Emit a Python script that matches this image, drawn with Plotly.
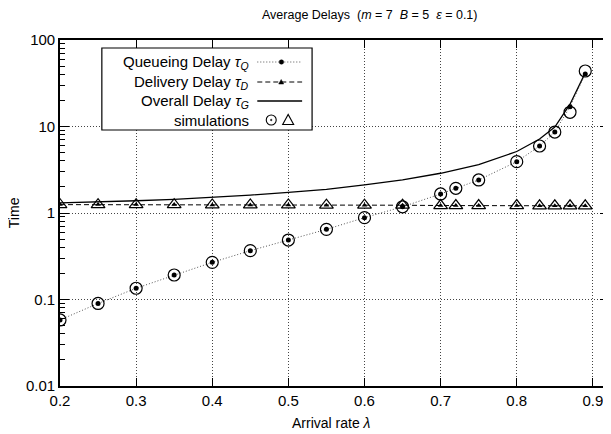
import plotly.graph_objects as go

# ---- data ----
arrival_rate = [0.2, 0.25, 0.3, 0.35, 0.4, 0.45, 0.5, 0.55, 0.6, 0.65,
                0.7, 0.72, 0.75, 0.8, 0.83, 0.85, 0.87, 0.89]
queueing_delay = [0.058, 0.090, 0.135, 0.192, 0.269, 0.367, 0.487, 0.647, 0.883, 1.18,
                  1.66, 1.93, 2.41, 3.92, 5.95, 8.63, 16.9, 40.5]
delivery_delay = [1.25, 1.25, 1.25, 1.25, 1.24, 1.24, 1.24, 1.23, 1.23, 1.23,
                  1.22, 1.22, 1.22, 1.22, 1.21, 1.21, 1.21, 1.21]
overall_delay = [1.31, 1.34, 1.385, 1.44, 1.51, 1.61, 1.73, 1.88, 2.11, 2.41,
                 2.88, 3.15, 3.63, 5.14, 7.16, 9.84, 18.1, 41.7]
sim_queueing = [0.058, 0.090, 0.135, 0.192, 0.269, 0.367, 0.487, 0.647, 0.883, 1.18,
                1.66, 1.93, 2.41, 3.92, 5.95, 8.63, 14.6, 43.8]
sim_delivery = [1.25, 1.25, 1.25, 1.25, 1.24, 1.24, 1.24, 1.23, 1.23, 1.23,
                1.22, 1.22, 1.22, 1.22, 1.21, 1.21, 1.21, 1.21]

x_tickvals = [0.2, 0.3, 0.4, 0.5, 0.6, 0.7, 0.8, 0.9]
x_ticktext = ["0.2", "0.3", "0.4", "0.5", "0.6", "0.7", "0.8", "0.9"]
y_tickvals = [0.01, 0.1, 1, 10, 100]
y_ticktext = ["0.01", "0.1", "1", "10", "100"]

FONT = "Liberation Sans, Arial, Helvetica, sans-serif"
NB = "\u00a0"

# The page body has an 8px margin; the figure is sized/offset to compensate.
OFF = 8
WIN_W, WIN_H = 611, 434
PL, PR, PT, PB = 60, 611, 40, 386          # plot area in window pixels
W, H = WIN_W - OFF, WIN_H - OFF
L, T = PL - OFF, PT - OFF
R, B = 0, H - (PB - OFF)
PW, PH = PR - PL, PB - PT


def px(xp):
    return (xp - PL) / PW


def py(yp):
    return (PB - yp) / PH


DOT = "1px,2px"

fig = go.Figure()

fig.add_trace(go.Scatter(
    x=arrival_rate, y=overall_delay, mode="lines",
    line=dict(color="black", width=1.3), showlegend=False))
fig.add_trace(go.Scatter(
    x=arrival_rate, y=delivery_delay, mode="lines+markers",
    line=dict(color="black", width=1, dash="5px,3px"),
    marker=dict(symbol="triangle-up", size=5, color="black"), showlegend=False))
fig.add_trace(go.Scatter(
    x=arrival_rate, y=queueing_delay, mode="lines+markers",
    line=dict(color="#555555", width=1, dash=DOT),
    marker=dict(symbol="circle", size=5, color="black"), showlegend=False))
fig.add_trace(go.Scatter(
    x=arrival_rate, y=sim_queueing, mode="markers",
    marker=dict(symbol="circle-open", size=12, color="black", line=dict(width=1.2)),
    showlegend=False))
fig.add_trace(go.Scatter(
    x=arrival_rate, y=sim_delivery, mode="markers",
    marker=dict(symbol="triangle-up-open", size=12, color="black", line=dict(width=1.2)),
    showlegend=False))

shapes = []
annotations = []

# custom legend box (text left, key right)
shapes.append(dict(type="rect", xref="paper", yref="paper",
                   x0=px(102), x1=px(313), y0=py(130), y1=py(48),
                   fillcolor="white", line=dict(color="black", width=1.2), layer="above"))

legend_rows = [
    ("Queueing Delay <i>τ</i><sub><i>Q</i></sub>", 62),
    ("Delivery Delay <i>τ</i><sub><i>D</i></sub>", 82),
    ("Overall Delay <i>τ</i><sub><i>G</i></sub>", 101),
    ("simulations", 120),
]
for txt, yy in legend_rows:
    annotations.append(dict(text=txt, xref="paper", yref="paper", x=px(252), y=py(yy),
                            xanchor="right", yanchor="middle", showarrow=False,
                            font=dict(family=FONT, size=15, color="black")))

# key samples
shapes.append(dict(type="line", xref="paper", yref="paper", x0=px(258), x1=px(303),
                   y0=py(62), y1=py(62), line=dict(color="#555555", width=1, dash=DOT),
                   layer="above"))
shapes.append(dict(type="circle", xref="paper", yref="paper", x0=px(280), x1=px(284.5),
                   y0=py(64.2), y1=py(59.8), fillcolor="black", line=dict(color="black", width=0.5),
                   layer="above"))
shapes.append(dict(type="line", xref="paper", yref="paper", x0=px(258), x1=px(303),
                   y0=py(82), y1=py(82), line=dict(color="black", width=1, dash="5px,3px"),
                   layer="above"))
shapes.append(dict(type="path", xref="paper", yref="paper",
                   path="M {} {} L {} {} L {} {} Z".format(px(279.5), py(84), px(284.5), py(84),
                                                           px(282), py(79.5)),
                   fillcolor="black", line=dict(color="black", width=0.5), layer="above"))
shapes.append(dict(type="line", xref="paper", yref="paper", x0=px(258), x1=px(303),
                   y0=py(101), y1=py(101), line=dict(color="black", width=1.3), layer="above"))
shapes.append(dict(type="circle", xref="paper", yref="paper", x0=px(267), x1=px(277),
                   y0=py(125), y1=py(115), line=dict(color="black", width=1.1), layer="above"))
shapes.append(dict(type="circle", xref="paper", yref="paper", x0=px(271.2), x1=px(272.8),
                   y0=py(120.8), y1=py(119.2), fillcolor="black", line=dict(color="black", width=0.5),
                   layer="above"))
shapes.append(dict(type="path", xref="paper", yref="paper",
                   path="M {} {} L {} {} L {} {} Z".format(px(283.5), py(124.5), px(294.5), py(124.5),
                                                           px(289), py(114.5)),
                   line=dict(color="black", width=1.1), layer="above"))

# title
annotations.append(dict(
    text="Average Delays" + NB * 2 + "(<i>m</i> = 7" + NB * 2 + "<i>B</i> = 5" + NB * 2 + "<i>ε</i> = 0.1)",
    xref="paper", yref="paper", x=px(371), y=py(15), xanchor="center", yanchor="middle",
    showarrow=False, font=dict(family=FONT, size=12.5, color="black")))
# axis titles
annotations.append(dict(text="Arrival rate <i>λ</i>", xref="paper", yref="paper",
                        x=px(332), y=py(423), xanchor="center", yanchor="middle",
                        showarrow=False, font=dict(family=FONT, size=14, color="black")))
annotations.append(dict(text="Time", xref="paper", yref="paper", x=px(14), y=py(213),
                        xanchor="center", yanchor="middle", textangle=-90,
                        showarrow=False, font=dict(family=FONT, size=14, color="black")))

fig.update_layout(
    width=W, height=H,
    margin=dict(l=L, r=R, t=T, b=B, pad=0),
    paper_bgcolor="white", plot_bgcolor="white",
    shapes=shapes, annotations=annotations,
    font=dict(family=FONT, size=15, color="black"),
    xaxis=dict(range=[0.2, 0.2 + 0.1 * PW / 76.4], tickmode="array",
               tickvals=x_tickvals, ticktext=x_ticktext,
               ticks="inside", ticklen=8, tickcolor="black", tickwidth=1,
               showline=True, linecolor="black", linewidth=1.6, mirror="ticks",
               showgrid=True, gridcolor="#444444", griddash=DOT, gridwidth=1,
               zeroline=False, tickfont=dict(family=FONT, size=15, color="black")),
    yaxis=dict(type="log", range=[-2, 2], tickmode="array",
               tickvals=y_tickvals, ticktext=y_ticktext,
               ticks="inside", ticklen=9, tickcolor="black", tickwidth=1,
               minor=dict(dtick="D1", ticks="inside",
                          ticklen=5, tickcolor="black", tickwidth=1, showgrid=False),
               showline=True, linecolor="black", linewidth=1.6, mirror="ticks",
               showgrid=True, gridcolor="#444444", griddash=DOT, gridwidth=1,
               zeroline=False, tickfont=dict(family=FONT, size=15, color="black")),
)

fig.write_html("out.html")
